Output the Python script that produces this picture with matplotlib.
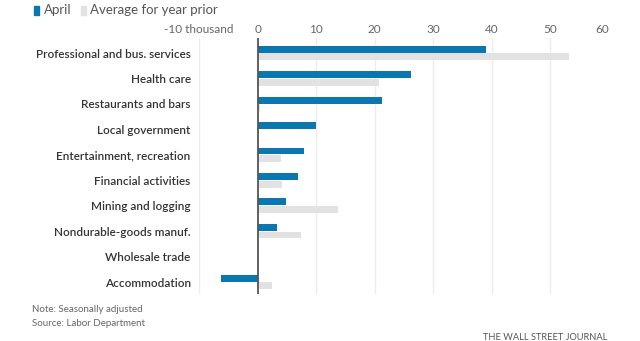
import matplotlib
matplotlib.use("Agg")
import matplotlib.pyplot as plt
import numpy as np
from matplotlib.patches import Rectangle

# Job gains by industry, thousands
categories = ["Professional and bus. services", "Health care", "Restaurants and bars",
              "Local government", "Entertainment, recreation", "Financial activities",
              "Mining and logging", "Nondurable-goods manuf.", "Wholesale trade",
              "Accommodation"]
april = [39.0, 26.2, 21.3, 9.9, 8.0, 6.9, 4.9, 3.4, 0.0, -6.2]
avg_prior = [53.2, 20.8, 0.4, 0.2, 4.0, 4.2, 13.7, 7.4, 0.2, 2.4]
tick_vals = [-10, 0, 10, 20, 30, 40, 50, 60]
tick_labels = ["-10 thousand", "0", "10", "20", "30", "40", "50", "60"]

BLUE = "#0a77b1"
GREY = "#e2e2e2"
plt.rcParams["font.family"] = ["Lato", "DejaVu Sans"]

W, H = 640, 341
fig = plt.figure(figsize=(W / 100, H / 100), dpi=100)
ax = fig.add_axes([199 / W, 47 / H, 410 / W, 256 / H])

y = np.arange(len(categories))
bh = 0.27
ax.barh(y - 0.15, april, height=bh, color=BLUE, zorder=3)
ax.barh(y + 0.15, avg_prior, height=bh, color=GREY, zorder=2)

ax.set_xlim(-10, 60)
ax.set_ylim(len(categories) - 0.53, -0.59)

# vertical grid, no line at the right edge
for v in tick_vals[:-1]:
    if v != 0:
        ax.axvline(v, color="#ececec", lw=1.0, zorder=1)
ax.axvline(0, color="#555555", lw=1.3, zorder=4)

for s in ax.spines.values():
    s.set_visible(False)

ax.xaxis.tick_top()
ax.set_xticks(tick_vals)
ax.set_xticklabels(tick_labels)
ax.tick_params(axis="x", length=0, pad=2, labelsize=8.5, labelcolor="#666666")
ax.get_xticklabels()[-1].set_ha("right")

ax.set_yticks(y)
ax.set_yticklabels(categories)
ax.tick_params(axis="y", length=0, pad=6, labelsize=8.5, labelcolor="#333333")
for lab in ax.get_yticklabels():
    lab.set_fontweight("semibold")

# legend row
def px(x, yy):
    return x / W, 1 - yy / H

fig.patches.append(Rectangle(px(34, 15), 5 / W, 9 / H, transform=fig.transFigure,
                             color=BLUE))
fig.text(*px(44, 10.5), "April", fontsize=9.5, color="#555555", va="center")
fig.patches.append(Rectangle(px(81, 15), 5 / W, 9 / H, transform=fig.transFigure,
                             color=GREY))
fig.text(*px(90, 10.5), "Average for year prior", fontsize=9.5, color="#555555",
         va="center")

fig.text(*px(32, 309), "Note: Seasonally adjusted", fontsize=7, color="#666666",
         va="center")
fig.text(*px(32, 323), "Source: Labor Department", fontsize=7, color="#666666",
         va="center")
fig.text(*px(607, 337), "THE WALL STREET JOURNAL", fontsize=6.7, color="#555555",
         va="center", ha="right")

fig.savefig("out.png", dpi=100)
